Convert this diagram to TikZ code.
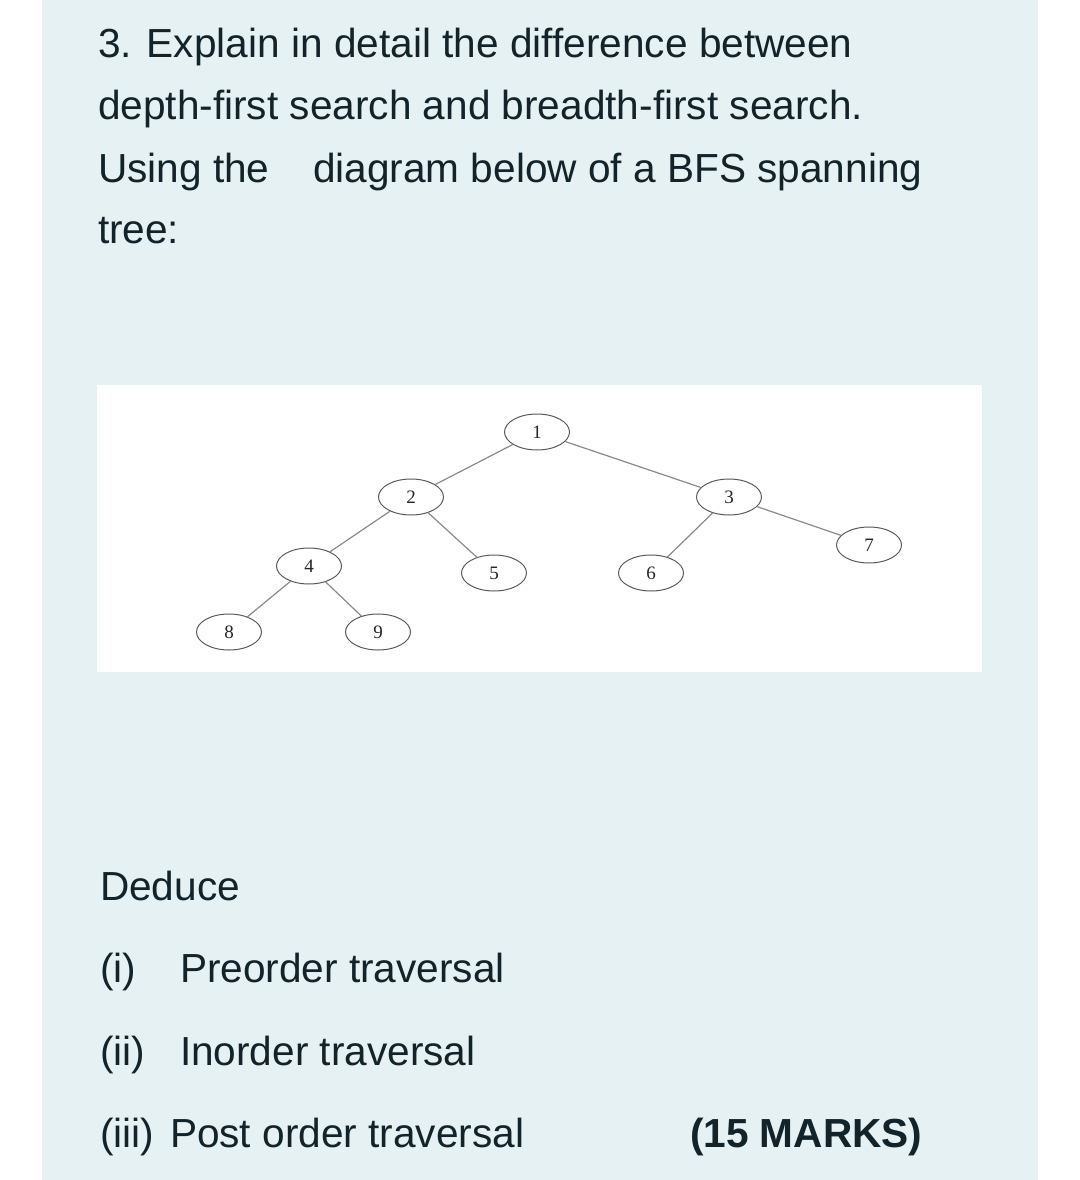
\documentclass[tikz,border=0pt]{standalone}
\usepackage{fontspec}
\setmainfont{Liberation Sans}
\newfontfamily\treefont{Liberation Serif}
\usetikzlibrary{shapes.geometric}
\definecolor{panelbg}{HTML}{E6F1F4}
\definecolor{txt}{HTML}{12232A}
\definecolor{edgegray}{HTML}{8A8A8A}
\definecolor{ringgray}{HTML}{5A5A5A}
\tikzset{
  qtext/.style={anchor=base west, inner sep=0pt, outer sep=0pt, text=txt,
    font=\fontsize{40.6}{49}\selectfont},
  boldtext/.style={qtext, font=\fontsize{40.6}{49}\selectfont\bfseries},
  treenode/.style={ellipse, draw=ringgray, line width=1pt, fill=white,
    minimum width=65pt, minimum height=36pt, inner sep=0pt,
    font=\treefont\fontsize{19}{19}\selectfont, text=black!85},
  treeedge/.style={draw=edgegray, line width=1.2pt}
}
\begin{document}
\begin{tikzpicture}[x=1pt,y=-1pt]
\useasboundingbox (0,0) rectangle (1079,1180);
\fill[white] (0,0) rectangle (1079,1180);
\fill[panelbg] (42,0) rectangle (1038,1180);
% question text
\node[qtext] (l1) at (98,58) {3. Explain in detail the difference between};
\node[qtext] (l2) at (98,120) {depth-first search and breadth-first search.};
\node[qtext] (l3a) at (98,182) {Using the};
\node[qtext] (l3b) at (313,182) {diagram below of a BFS spanning};
\node[qtext] (l4) at (98,243) {tree:};
% tree picture
\fill[white] (97,385) rectangle (982,672);
\node[treenode] (n1) at (537,432) {1};
\node[treenode] (n2) at (411,497) {2};
\node[treenode] (n3) at (729,497) {3};
\node[treenode] (n4) at (309,566) {4};
\node[treenode] (n5) at (494,573) {5};
\node[treenode] (n6) at (651,573) {6};
\node[treenode] (n7) at (869,545) {7};
\node[treenode] (n8) at (229,632) {8};
\node[treenode] (n9) at (378,632) {9};
\draw[treeedge] (n1) -- (n2);
\draw[treeedge] (n1) -- (n3);
\draw[treeedge] (n2) -- (n4);
\draw[treeedge] (n2) -- (n5);
\draw[treeedge] (n3) -- (n6);
\draw[treeedge] (n3) -- (n7);
\draw[treeedge] (n4) -- (n8);
\draw[treeedge] (n4) -- (n9);
% deduce part
\node[qtext] (d0) at (100,900) {Deduce};
\node[qtext] (d1a) at (100,982) {(i)};
\node[qtext] (d1b) at (180,982) {Preorder traversal};
\node[qtext] (d2a) at (100,1065) {(ii)};
\node[qtext] (d2b) at (180,1065) {Inorder traversal};
\node[qtext] (d3a) at (100,1147) {(iii)};
\node[qtext] (d3b) at (170,1147) {Post order traversal};
\node[boldtext] (marks) at (690,1147) {(15 MARKS)};
\end{tikzpicture}
\end{document}
